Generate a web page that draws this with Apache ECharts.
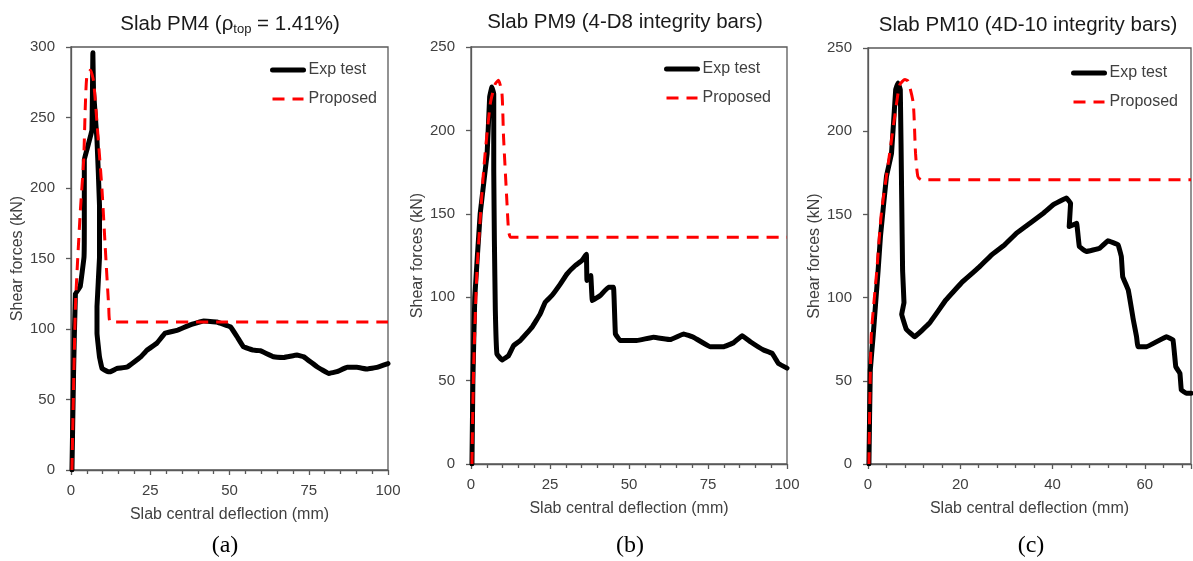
<!DOCTYPE html>
<html>
<head>
<meta charset="utf-8">
<script src="https://cdn.jsdelivr.net/npm/echarts@6/dist/echarts.min.js"></script>
<style>
html, body { margin: 0; padding: 0; background: #fff; }
#chart { width: 1193px; height: 561px; }
</style>
</head>
<body>
<div id="chart"></div>
<script>
// Slab PM4 — experimental curve (deflection mm, shear kN)
const pm4ExpDefl  = [0.3, 0.8, 1.4, 2.9, 4.1, 4.2, 4.2, 5.0, 6.6, 6.9, 7.1, 8.2, 9.0, 9.0, 8.2, 8.2, 9.0, 9.8, 11.4, 12.4, 14.5, 17.7, 21.9, 24.0, 27.1, 29.7, 33.4, 37.6, 41.8, 46.0, 50.3, 52.4, 54.4, 57.6, 59.7, 63.9, 67.1, 71.3, 73.4, 77.6, 81.3, 83.9, 87.1, 90.2, 93.4, 96.5, 100];
const pm4ExpShear = [0, 68, 125, 130, 151, 172, 220, 227, 241, 296, 269, 234, 187, 151, 116, 97, 80, 72, 70, 69.7, 72, 73, 80, 85, 90, 97, 99, 103, 105.6, 105, 101.5, 94.5, 87.4, 85, 84.6, 80.3, 79.8, 81.5, 80.3, 73.2, 68.5, 69.7, 72.8, 72.8, 71.6, 72.8, 75.5];
// Slab PM4 — proposed model
const pm4PropDefl  = [0.3, 1.4, 2.9, 4.0, 4.5, 5.0, 6.1, 7.1, 8.2, 9.8, 10.8, 11.9, 12.4, 100];
const pm4PropShear = [0, 116, 182, 220, 257, 279, 283.5, 276, 246, 198, 158, 116, 105, 105];

// Slab PM9 — experimental curve
const pm9ExpDefl  = [0.3, 0.6, 1.2, 2.9, 5.1, 5.9, 6.6, 7.2, 7.2, 7.4, 7.7, 8.2, 9.8, 11.9, 13.5, 15.6, 19.3, 21.9, 23.5, 25.6, 28.3, 30.4, 33.0, 35.1, 36.5, 36.7, 37.9, 38.4, 40.9, 43.5, 45.1, 45.7, 47.2, 52.5, 57.7, 63.1, 67.3, 70.4, 75.7, 79.9, 83.1, 85.8, 88.4, 92.6, 95.3, 97.3, 100];
const pm9ExpShear = [0, 50, 100, 150, 186, 220, 226, 222, 176, 134, 92, 66, 62.3, 65, 71, 74, 82, 90, 97, 101, 108, 114, 119, 122, 125.8, 110, 113, 98, 101, 106, 106, 78, 74, 74, 76, 74.6, 78, 76, 70.3, 70.3, 72.7, 76.9, 73.3, 68.3, 66.3, 60.3, 57.5];
// Slab PM9 — proposed model
const pm9PropDefl  = [0.3, 0.8, 1.9, 4.0, 6.1, 7.7, 8.7, 9.8, 10.3, 11.4, 11.9, 12.6, 100];
const pm9PropShear = [0, 56, 116, 176, 216, 228, 230, 222, 196, 156, 140, 136, 136];

// Slab PM10 — experimental curve
const pm10ExpDefl  = [0.2, 0.5, 1.1, 2.2, 2.7, 4.0, 5.1, 6.0, 6.5, 7.0, 7.3, 7.5, 7.8, 7.3, 8.3, 10.1, 13.3, 16.9, 20.5, 24.2, 26.8, 29.6, 32.2, 35.1, 38.0, 40.1, 43.0, 43.9, 43.6, 45.2, 45.8, 47.3, 50.2, 52.0, 54.2, 54.9, 55.2, 56.4, 57.5, 58.2, 58.5, 60.4, 64.7, 66.1, 66.7, 67.6, 67.9, 69.0, 70];
const pm10ExpShear = [0, 56.5, 76.5, 116.6, 136.7, 172.8, 186.8, 225, 229, 225, 160, 116, 97, 90, 81, 76.5, 84.6, 98.6, 109.6, 118.6, 125.7, 131.7, 138.7, 144.7, 150.7, 155.7, 159.8, 156.7, 142.7, 144.7, 130.7, 127.7, 129.7, 134.1, 131.7, 124.7, 112.6, 104.6, 86.6, 76.5, 70.5, 70.5, 76.5, 74.6, 58.5, 54.5, 44.5, 42.5, 42.5];
// Slab PM10 — proposed model
const pm10PropDefl  = [0.2, 0.7, 1.9, 2.9, 4.7, 6.2, 6.9, 8.0, 8.7, 9.8, 10.3, 10.8, 11.6, 70];
const pm10PropShear = [0, 76.5, 116, 150.7, 186.8, 216.9, 228, 231, 230, 217, 186.8, 172.8, 170.8, 170.8];

// Axis ranges and tick steps
const xMax = [100, 100, 70];
const xStep = [25, 25, 20];
const yMax = [300, 250, 250];
const yStep = [50, 50, 50];

const seriesNames = ['Exp test', 'Proposed'];
const xAxisTitle = 'Slab central deflection (mm)';
const yAxisTitle = 'Shear forces (kN)';
const panelCaptions = ['(a)', '(b)', '(c)'];

const SANS = "'Liberation Sans', Arial, sans-serif";
const SERIF = "'Liberation Serif', 'Times New Roman', serif";
const AXIS_COLOR = '#595959';
const TEXT_COLOR = '#404040';
const EXP_STYLE = { color: '#000', width: 5, cap: 'round', join: 'round' };
const PROP_STYLE = { color: '#ff0000', width: 3, type: [12, 8] };

function pairs(xs, ys) { return xs.map((x, i) => [x, ys[i]]); }

const panels = [
  { exp: pairs(pm4ExpDefl, pm4ExpShear), prop: pairs(pm4PropDefl, pm4PropShear) },
  { exp: pairs(pm9ExpDefl, pm9ExpShear), prop: pairs(pm9PropDefl, pm9PropShear) },
  { exp: pairs(pm10ExpDefl, pm10ExpShear), prop: pairs(pm10PropDefl, pm10PropShear) }
];

const gridBoxes = [
  { left: 71, top: 47, width: 317, height: 423 },
  { left: 471, top: 47, width: 316, height: 417 },
  { left: 868, top: 48, width: 323, height: 416 }
];

const grid = gridBoxes.map(b => Object.assign({
  show: true, borderColor: AXIS_COLOR, borderWidth: 1.3, backgroundColor: 'transparent'
}, b));

const xAxis = gridBoxes.map((b, i) => ({
  type: 'value', gridIndex: i, min: 0, max: xMax[i], interval: xStep[i],
  name: xAxisTitle, nameLocation: 'middle', nameGap: 37,
  nameTextStyle: { fontSize: 16, color: TEXT_COLOR, fontFamily: SANS },
  axisLine: { show: true, lineStyle: { color: AXIS_COLOR, width: 1.3 } },
  axisTick: { show: true, length: 5, lineStyle: { color: AXIS_COLOR, width: 1.3 } },
  minorTick: { show: true, splitNumber: 5, length: 4, lineStyle: { color: AXIS_COLOR, width: 1.3 } },
  axisLabel: { fontSize: 15, color: TEXT_COLOR, fontFamily: SANS, margin: 13, showMaxLabel: i < 2 },
  splitLine: { show: false }
}));

const yAxis = gridBoxes.map((b, i) => ({
  type: 'value', gridIndex: i, min: 0, max: yMax[i], interval: yStep[i],
  name: yAxisTitle, nameLocation: 'middle', nameGap: 45, nameRotate: 90,
  nameTextStyle: { fontSize: 16, color: TEXT_COLOR, fontFamily: SANS },
  axisLine: { show: true, lineStyle: { color: AXIS_COLOR, width: 1.3 } },
  axisTick: { show: true, length: 5, lineStyle: { color: AXIS_COLOR, width: 1.3 } },
  axisLabel: { fontSize: 15, color: TEXT_COLOR, fontFamily: SANS, margin: 16 },
  splitLine: { show: false }
}));

const series = [];
panels.forEach((p, i) => {
  series.push({
    type: 'line', name: seriesNames[0], xAxisIndex: i, yAxisIndex: i,
    data: p.exp, symbol: 'none', showSymbol: false, smooth: 0.06, z: 2,
    color: '#000', lineStyle: EXP_STYLE
  });
  series.push({
    type: 'line', name: seriesNames[1], xAxisIndex: i, yAxisIndex: i,
    data: p.prop, symbol: 'none', showSymbol: false, smooth: 0.2, z: 3,
    color: '#ff0000', lineStyle: PROP_STYLE
  });
});

const legendSpots = [
  { left: 270, top: 62 },
  { left: 664, top: 61 },
  { left: 1071, top: 65 }
];
const legend = legendSpots.map(s => ({
  left: s.left, top: s.top, orient: 'vertical',
  data: [
    { name: seriesNames[0], lineStyle: EXP_STYLE },
    { name: seriesNames[1], lineStyle: PROP_STYLE }
  ],
  itemWidth: 31, itemHeight: 14, itemGap: 13, padding: 0, selectedMode: false,
  itemStyle: { color: 'transparent', borderColor: 'transparent', borderWidth: 0 },
  textStyle: { fontSize: 16, color: TEXT_COLOR, fontFamily: SANS }
}));

const titleStyle = { fontSize: 20.5, color: '#1a1a1a', fontFamily: SANS, fontWeight: 'normal' };
const title = [
  {
    text: '{t|Slab PM4 (ρ}{s|top}{t| = 1.41%)}', left: 230, top: 12, textAlign: 'center', padding: 0,
    textStyle: { rich: {
      t: titleStyle,
      s: { fontSize: 13, color: '#1a1a1a', fontFamily: SANS, fontWeight: 'normal', padding: [11, 0, 0, 0] }
    } }
  },
  { text: 'Slab PM9 (4-D8 integrity bars)', left: 625, top: 12, textAlign: 'center', padding: 0, textStyle: titleStyle },
  { text: 'Slab PM10 (4D-10 integrity bars)', left: 1028, top: 15, textAlign: 'center', padding: 0, textStyle: titleStyle }
].concat(panelCaptions.map((c, i) => ({
  text: c, left: [225, 630, 1031][i], top: 534, textAlign: 'center', padding: 0,
  textStyle: { fontSize: 24, color: '#000', fontFamily: SERIF, fontWeight: 'normal' }
})));

const chart = echarts.init(document.getElementById('chart'), null, { renderer: 'canvas' });
chart.setOption({
  backgroundColor: '#fff',
  animation: false,
  title, legend, grid, xAxis, yAxis, series
});
</script>
</body>
</html>
